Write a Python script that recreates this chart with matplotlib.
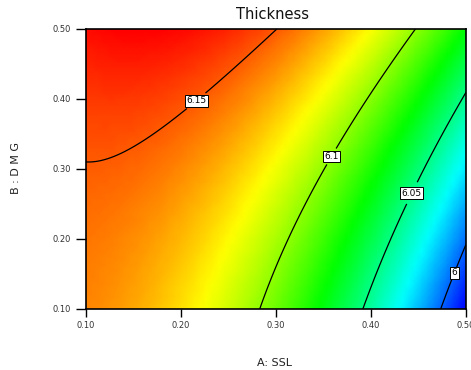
import numpy as np
import matplotlib
matplotlib.use('Agg')
import matplotlib.pyplot as plt
from matplotlib.colors import LinearSegmentedColormap

# fitted quadratic model for Thickness, terms: 1, A, B, AB, A^2, B^2
terms = ['1', 'A', 'B', 'AB', 'A2', 'B2']
coef = [6.1469, 0.0256, -0.0460, 0.4388, -0.7861, 0.0942]

a_range = [0.10, 0.50]
b_range = [0.10, 0.50]
ticks = [0.10, 0.20, 0.30, 0.40, 0.50]
tick_labels = ['0.10', '0.20', '0.30', '0.40', '0.50']
levels = [6.0, 6.05, 6.1, 6.15]
label_pos = [(0.485, 0.153), (0.441, 0.267), (0.357, 0.319), (0.215, 0.399)]


def model(A, B):
    c = dict(zip(terms, coef))
    return (c['1'] + c['A']*A + c['B']*B + c['AB']*A*B
            + c['A2']*A**2 + c['B2']*B**2)


cmap = LinearSegmentedColormap.from_list(
    'de', ['#0000ff', '#00ffff', '#00ff00', '#ffff00', '#ff0000'])

fig = plt.figure(figsize=(4.71, 3.70), dpi=100)
ax = fig.add_axes([0.1826, 0.1649, 0.8068, 0.7568])

ca = np.linspace(a_range[0], a_range[1], 61)
cb = np.linspace(b_range[0], b_range[1], 45)
CA, CB = np.meshgrid(ca, cb)
ax.pcolormesh(CA, CB, model(CA, CB), cmap=cmap, shading='gouraud')

a = np.linspace(a_range[0], a_range[1], 300)
b = np.linspace(b_range[0], b_range[1], 300)
A, B = np.meshgrid(a, b)
cs = ax.contour(A, B, model(A, B), levels=levels, colors='k', linewidths=0.9)
lbls = ax.clabel(cs, fmt='%g', fontsize=6.5, inline=True, inline_spacing=2,
                 manual=label_pos)
for t in lbls:
    t.set_bbox(dict(boxstyle='square,pad=0.15', fc='white', ec='black', lw=0.7))
    t.set_rotation(0)

ax.set_xlim(a_range)
ax.set_ylim(b_range)
ax.set_xticks(ticks)
ax.set_xticklabels(tick_labels)
ax.set_yticks(ticks)
ax.set_yticklabels(tick_labels)
ax.tick_params(axis='x', length=5.5, width=1, pad=3.5, labelsize=6, labelcolor='#333333')
ax.tick_params(axis='y', length=7.2, width=1, pad=3.5, labelsize=6, labelcolor='#333333')
for s in ax.spines.values():
    s.set_linewidth(1.2)

fig.text(0.578, 0.962, 'Thickness', fontsize=10.5, ha='center', va='center', color='#111111')
fig.text(0.582, 0.019, 'A: SSL', fontsize=8, ha='center', va='center', color='#222222')
fig.text(0.034, 0.545, 'B : D M G', fontsize=8, ha='center', va='center',
         rotation=90, color='#222222')

fig.savefig('out.png')
